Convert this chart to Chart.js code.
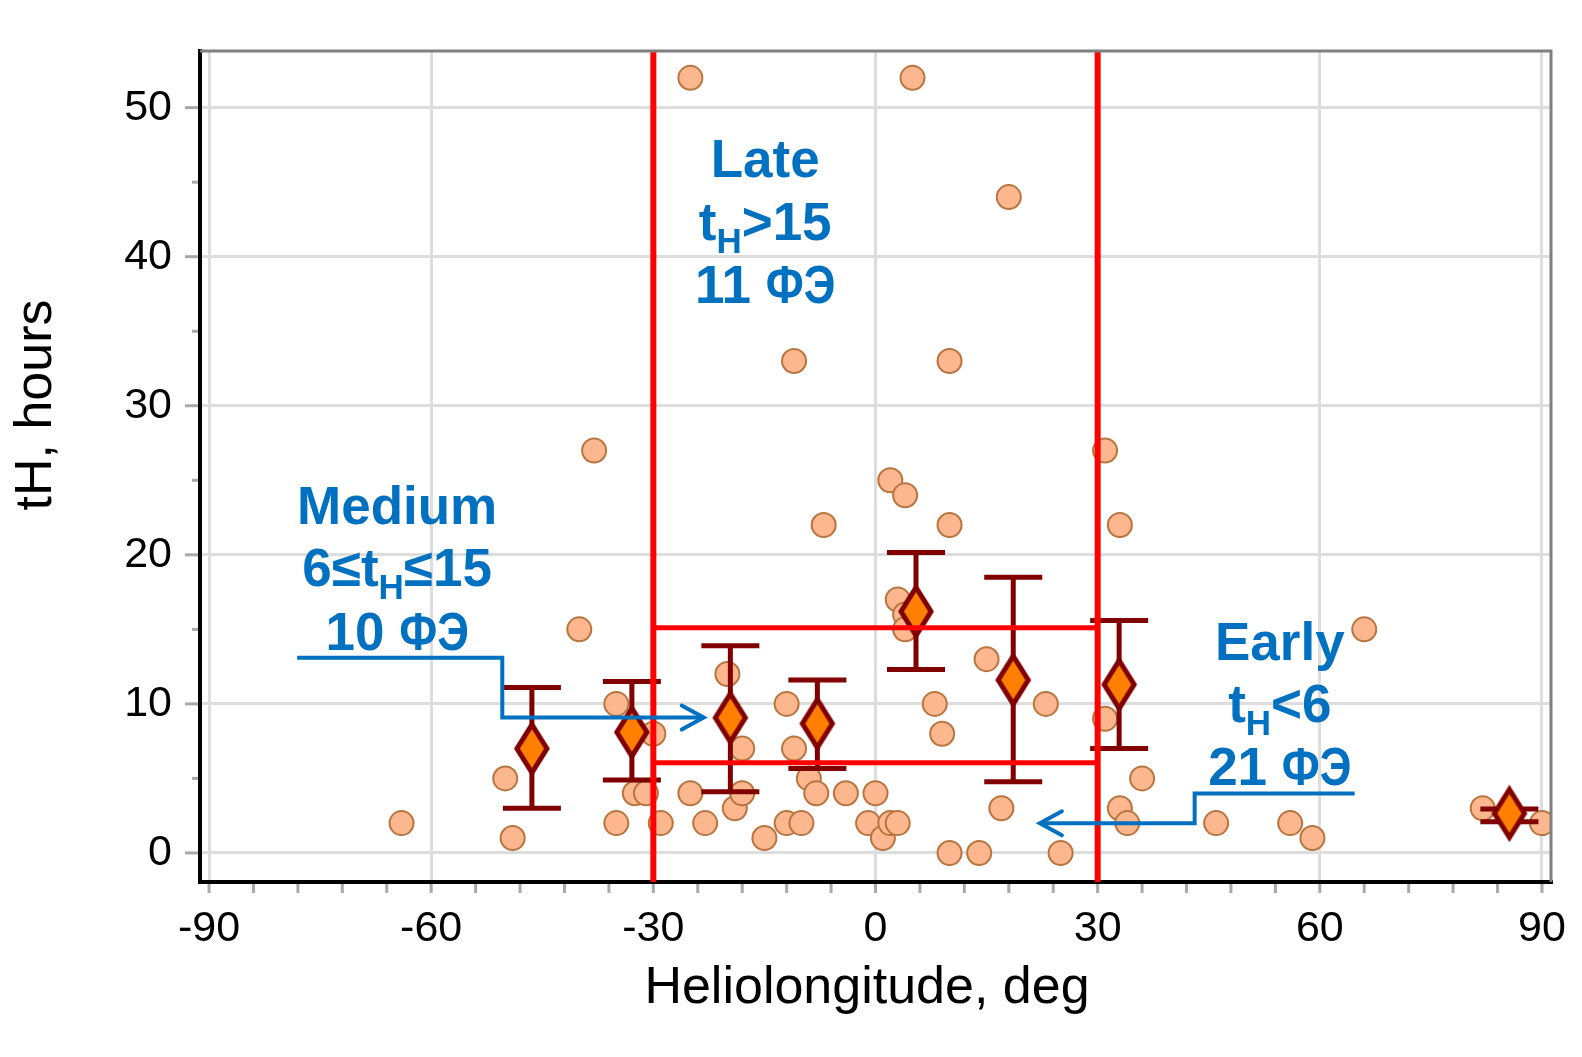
<!DOCTYPE html>
<html>
<head>
<meta charset="utf-8">
<script src="https://cdn.jsdelivr.net/npm/chart.js@4.4.0/dist/chart.umd.min.js"></script>
<style>
html, body { margin: 0; padding: 0; background: #fff; }
</style>
</head>
<body>
<canvas id="chartTH" width="1582" height="1057"></canvas>
<script>
// single events: heliolongitude (deg) and tH (hours)
var eventLon = [-64, -50, -49, -40, -38, -35, -35, -32.5, -31, -30, -29, -25, -25, -23, -20, -19, -18, -18, -15,
    -12, -12, -11, -11, -10, -9, -8, -7, -4, -1, 0, 1, 2, 2, 3, 3, 4, 4, 4, 5, 8, 9, 10, 10, 10, 14, 15, 17,
    18, 23, 25, 31, 31, 33, 33, 34, 36, 46, 56, 59, 66, 82, 90];
var eventTH = [2, 5, 1, 15, 27, 10, 2, 4, 4, 8, 2, 52, 4, 2, 12, 3, 7, 4, 1,
    10, 2, 33, 7, 2, 5, 4, 22, 4, 2, 4, 1, 25, 2, 2, 17, 24, 16, 15, 52, 10, 8, 33, 22, 0, 0, 13, 3,
    44, 10, 0, 27, 9, 22, 3, 2, 5, 2, 2, 1, 15, 3, 2];

// bin means with error bars
var meanLon = [-46.4, -32.9, -19.6, -7.85, 5.47, 18.6, 32.9, 85.6];
var meanTH = [7.0, 8.1, 9.07, 8.68, 16.2, 11.6, 11.3, 2.65];
var errLow = [3.0, 4.9, 4.1, 5.67, 12.3, 4.77, 7.0, 2.1];
var errHigh = [11.1, 11.5, 13.9, 11.6, 20.15, 18.5, 15.6, 2.95];

var xTicks = [-90, -60, -30, 0, 30, 60, 90];
var yTicks = [0, 10, 20, 30, 40, 50];
var xMinorStep = 6;
var yMinorStep = 5;

// red zone: longitude limits and tH limits
var zoneLon = [-30, 30];
var zoneTH = [6.05, 15.1];

// blue notes, text lines (second item 1 = subscript, third = horizontal squeeze)
var noteLines = [
    { x: -14.9, y: 45.35, parts: [['Late']] },
    { x: -14.9, y: 41.1, parts: [['t'], ['H', 1], ['>15']] },
    { x: -14.9, y: 36.9, parts: [['11 '], ['ФЭ', 0, 0.84]] },
    { x: -64.6, y: 22.05, parts: [['Medium']] },
    { x: -64.6, y: 17.88, parts: [['6≤t'], ['H', 1], ['≤15']] },
    { x: -64.6, y: 13.63, parts: [['10 '], ['ФЭ', 0, 0.84]] },
    { x: 54.6, y: 12.96, parts: [['Early']] },
    { x: 54.6, y: 8.78, parts: [['t'], ['H', 1], ['<6']] },
    { x: 54.6, y: 4.55, parts: [['21 '], ['ФЭ', 0, 0.84]] }
];
var arrowPaths = [
    [[-78.1, 13.09], [-50.4, 13.09], [-50.4, 9.08], [-23.2, 9.08]],
    [[64.7, 3.99], [43.1, 3.99], [43.1, 1.99], [22.2, 1.99]]
];

var FONT = '"Liberation Sans", Arial, sans-serif';
var BLUE = '#0070C0';

function makeDiamond() {
    var c = document.createElement('canvas');
    c.width = 42;
    c.height = 60;
    var g = c.getContext('2d');
    g.beginPath();
    g.moveTo(21, 6);
    g.lineTo(36, 30);
    g.lineTo(21, 54);
    g.lineTo(6, 30);
    g.closePath();
    g.fillStyle = '#FF8000';
    g.fill();
    g.lineWidth = 5;
    g.strokeStyle = '#800000';
    g.stroke();
    return c;
}

var extras = {
    id: 'extras',
    afterDatasetDraw: function (chart, args) {
        if (chart.data.datasets[args.index].label !== 'events') return;
        var ctx = chart.ctx, sx = chart.scales.x, sy = chart.scales.y;
        ctx.save();
        ctx.strokeStyle = '#800000';
        ctx.lineWidth = 5;
        for (var i = 0; i < meanLon.length; i++) {
            var px = sx.getPixelForValue(meanLon[i]);
            var top = sy.getPixelForValue(errHigh[i]);
            var bot = sy.getPixelForValue(errLow[i]);
            ctx.beginPath();
            ctx.moveTo(px, top); ctx.lineTo(px, bot);
            ctx.moveTo(px - 29, top); ctx.lineTo(px + 29, top);
            ctx.moveTo(px - 29, bot); ctx.lineTo(px + 29, bot);
            ctx.stroke();
        }
        ctx.restore();
    },
    afterDatasetsDraw: function (chart) {
        var ctx = chart.ctx, sx = chart.scales.x, sy = chart.scales.y, a = chart.chartArea;
        ctx.save();
        // red zone
        ctx.strokeStyle = '#FF0000';
        ctx.lineWidth = 6;
        zoneLon.forEach(function (v) {
            var px = sx.getPixelForValue(v);
            ctx.beginPath(); ctx.moveTo(px, a.top); ctx.lineTo(px, a.bottom); ctx.stroke();
        });
        ctx.lineWidth = 5;
        zoneTH.forEach(function (v) {
            var py = sy.getPixelForValue(v);
            ctx.beginPath();
            ctx.moveTo(sx.getPixelForValue(zoneLon[0]), py);
            ctx.lineTo(sx.getPixelForValue(zoneLon[1]), py);
            ctx.stroke();
        });
        // blue arrows
        ctx.strokeStyle = BLUE;
        ctx.lineWidth = 4;
        arrowPaths.forEach(function (p) {
            var pts = p.map(function (q) { return [sx.getPixelForValue(q[0]), sy.getPixelForValue(q[1])]; });
            ctx.lineCap = 'butt';
            ctx.lineJoin = 'miter';
            ctx.beginPath();
            ctx.moveTo(pts[0][0], pts[0][1]);
            for (var i = 1; i < pts.length; i++) ctx.lineTo(pts[i][0], pts[i][1]);
            ctx.stroke();
            var tip = pts[pts.length - 1], prev = pts[pts.length - 2];
            var dir = tip[0] > prev[0] ? 1 : -1;
            ctx.lineCap = 'round';
            ctx.beginPath();
            ctx.moveTo(tip[0] - dir * 22, tip[1] - 12);
            ctx.lineTo(tip[0], tip[1]);
            ctx.lineTo(tip[0] - dir * 22, tip[1] + 12);
            ctx.stroke();
        });
        // blue notes
        ctx.fillStyle = BLUE;
        ctx.textBaseline = 'alphabetic';
        ctx.textAlign = 'left';
        noteLines.forEach(function (n) {
            var w = 0;
            n.parts.forEach(function (p) {
                ctx.font = 'bold ' + (p[1] ? 35 : 53) + 'px ' + FONT;
                w += ctx.measureText(p[0]).width * (p[2] || 1);
            });
            var x = sx.getPixelForValue(n.x) - w / 2;
            var y = sy.getPixelForValue(n.y);
            n.parts.forEach(function (p) {
                var k = p[2] || 1;
                ctx.font = 'bold ' + (p[1] ? 35 : 53) + 'px ' + FONT;
                ctx.save();
                ctx.translate(x, y + (p[1] ? 13 : 0));
                ctx.scale(k, 1);
                ctx.fillText(p[0], 0, 0);
                ctx.restore();
                x += ctx.measureText(p[0]).width * k;
            });
        });
        ctx.restore();
    },
    afterDraw: function (chart) {
        var ctx = chart.ctx, sx = chart.scales.x, sy = chart.scales.y, a = chart.chartArea;
        ctx.save();
        // tick marks
        ctx.strokeStyle = '#A8A8A8';
        ctx.lineWidth = 3;
        for (var v = xTicks[0]; v <= xTicks[xTicks.length - 1]; v += xMinorStep) {
            var px = sx.getPixelForValue(v);
            ctx.beginPath(); ctx.moveTo(px, a.bottom + 2); ctx.lineTo(px, a.bottom + 11); ctx.stroke();
        }
        for (var w = 0; w <= sy.max; w += yMinorStep) {
            var py = sy.getPixelForValue(w);
            var len = yTicks.indexOf(w) >= 0 ? 13 : 6;
            ctx.beginPath(); ctx.moveTo(a.left - 2 - len, py); ctx.lineTo(a.left - 2, py); ctx.stroke();
        }
        // top and right frame
        ctx.strokeStyle = '#808080';
        ctx.lineWidth = 3;
        ctx.beginPath();
        ctx.moveTo(a.left, a.top);
        ctx.lineTo(a.right, a.top);
        ctx.lineTo(a.right, a.bottom);
        ctx.stroke();
        // axis titles
        ctx.fillStyle = '#000';
        ctx.font = '52px ' + FONT;
        ctx.textAlign = 'center';
        ctx.textBaseline = 'alphabetic';
        ctx.fillText('Heliolongitude, deg', 867, 1003);
        ctx.translate(51, 405);
        ctx.rotate(-Math.PI / 2);
        ctx.fillText('tH, hours', 0, 0);
        ctx.restore();
    }
};

var ctx = document.getElementById('chartTH');
var myChart = new Chart(ctx, {
    type: 'scatter',
    data: {
        datasets: [{
            label: 'events',
            data: eventLon.map(function (v, i) { return { x: v, y: eventTH[i] }; }),
            backgroundColor: '#FCB78F',
            borderColor: '#B8753F',
            borderWidth: 2,
            pointRadius: 12,
            order: 2
        }, {
            label: 'means',
            data: meanLon.map(function (v, i) { return { x: v, y: meanTH[i] }; }),
            pointStyle: makeDiamond(),
            pointRadius: 22,
            order: 1
        }]
    },
    options: {
        responsive: false,
        animation: false,
        layout: { padding: { top: 51, right: 31, left: 0, bottom: 0 } },
        plugins: {
            legend: { display: false },
            tooltip: { enabled: false }
        },
        scales: {
            x: {
                type: 'linear',
                min: -91.22,
                max: 91.22,
                afterBuildTicks: function (s) { s.ticks = xTicks.map(function (v) { return { value: v }; }); },
                afterFit: function (s) { s.height = 175; s.paddingLeft = 0; s.paddingRight = 0; },
                grid: { color: '#DDDDDD', lineWidth: 3, drawTicks: false },
                border: { color: '#000', width: 4 },
                ticks: {
                    padding: 21,
                    color: '#000',
                    font: { family: FONT, size: 43 },
                    maxRotation: 0,
                    autoSkip: false,
                    callback: function (v) { return String(v); }
                }
            },
            y: {
                type: 'linear',
                min: -1.95,
                max: 53.8,
                afterBuildTicks: function (s) { s.ticks = yTicks.map(function (v) { return { value: v }; }); },
                afterFit: function (s) { s.width = 200; s.paddingTop = 0; s.paddingBottom = 0; },
                grid: { color: '#DDDDDD', lineWidth: 3, drawTicks: false },
                border: { color: '#000', width: 4 },
                ticks: {
                    padding: 28,
                    color: '#000',
                    font: { family: FONT, size: 43 },
                    callback: function (v) { return String(v); }
                }
            }
        }
    },
    plugins: [extras]
});
</script>
</body>
</html>
